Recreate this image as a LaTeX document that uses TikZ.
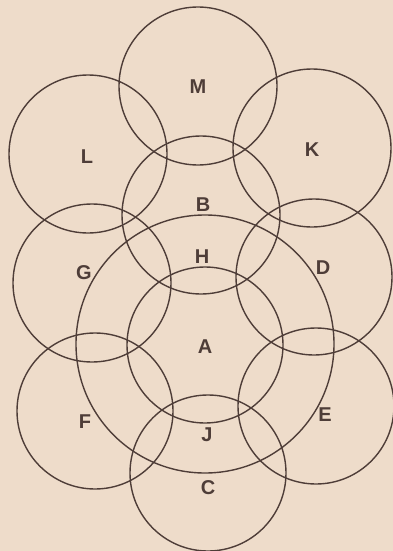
\documentclass[tikz,border=0pt]{standalone}
\usepackage{fontspec}
\setmainfont{Liberation Sans}
\definecolor{bg}{HTML}{EEDCCA}
\definecolor{ink}{HTML}{4E3D38}
\begin{document}
\begin{tikzpicture}[x=1pt,y=-1pt,
  ring/.style={draw=ink,line width=1.4pt},
  lab/.style={text=ink,font=\fontsize{20}{20}\selectfont\bfseries,inner sep=0pt}]
\fill[bg] (0,0) rectangle (393,551);
\useasboundingbox (0,0) rectangle (393,551);
\draw[ring] (198,86) circle (79);
\draw[ring] (88,154) circle (79);
\draw[ring] (312,148) circle (79);
\draw[ring] (201,215) circle (79);
\draw[ring] (92,283) circle (79);
\draw[ring] (314,277) circle (78);
\draw[ring] (205,344) circle (129);
\draw[ring] (205,345) circle (78);
\draw[ring] (95,411) circle (78);
\draw[ring] (316,406) circle (78);
\draw[ring] (208,473) circle (78);
\node[lab] (M) at (198,87) {M};
\node[lab] (L) at (87,157) {L};
\node[lab] (K) at (312,150) {K};
\node[lab] (B) at (203,205) {B};
\node[lab] (H) at (202,257) {H};
\node[lab] (G) at (84,273) {G};
\node[lab] (D) at (323,268) {D};
\node[lab] (A) at (205,347) {A};
\node[lab] (F) at (85,422) {F};
\node[lab] (E) at (325,415) {E};
\node[lab] (J) at (207,435) {J};
\node[lab] (C) at (208,488) {C};
\end{tikzpicture}
\end{document}
